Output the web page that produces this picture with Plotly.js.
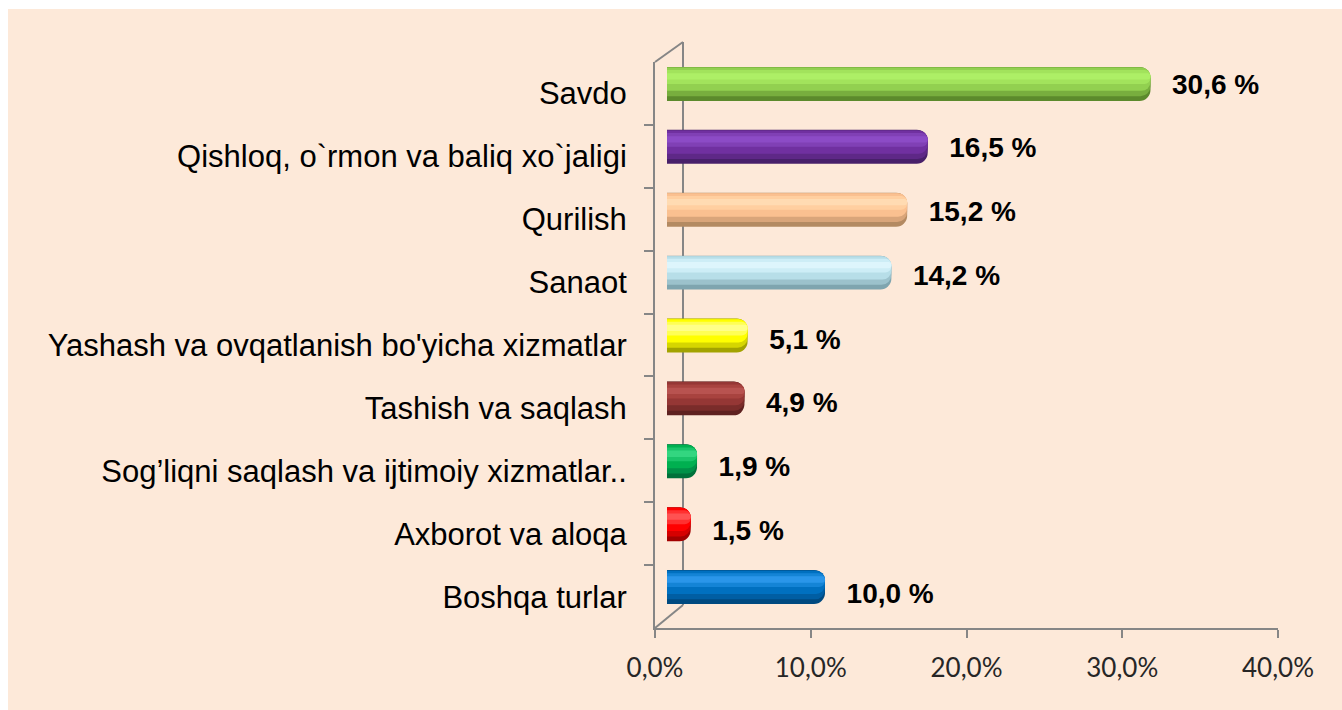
<!DOCTYPE html>
<html>
<head>
<meta charset="utf-8">
<script src="https://cdn.plot.ly/plotly-3.0.1.min.js"></script>
<style>html,body{margin:0;padding:0;background:#fff;}#chart{width:1342px;height:710px;}</style>
</head>
<body>
<div id="chart"></div>
<script>
const categories = [
  "Savdo",
  "Qishloq, o`rmon va baliq xo`jaligi",
  "Qurilish",
  "Sanaot",
  "Yashash va ovqatlanish bo'yicha xizmatlar",
  "Tashish va saqlash",
  "Sog’liqni saqlash va ijtimoiy xizmatlar..",
  "Axborot va aloqa",
  "Boshqa turlar"
];
const values = [30.6, 16.5, 15.2, 14.2, 5.1, 4.9, 1.9, 1.5, 10.0];
const tickValues = [0, 10, 20, 30, 40];
const tickLabels = ["0,0%", "10,0%", "20,0%", "30,0%", "40,0%"];

const baseColors  = ["#92D050","#7030A0","#FAC090","#B7DEE8","#FFFF00","#953735","#00B050","#FF0000","#0070C0"];
const darkColors  = ["#5C8A2C","#48206A","#B38A62","#7FA5AF","#A3A300","#5E2120","#00713A","#A30000","#004A80"];
const midColors   = ["#78AE3E","#5E2887","#D9A57A","#9CC2CC","#D6D600","#7A2C2A","#009148","#D60000","#005EA3"];
const lightColors = ["#A2E35C","#8040B5","#FFCFA0","#CDEDF6","#FFFF55","#A8433F","#1AC46A","#FF3030","#1484D6"];
const hiColors    = ["#ADEF66","#8C4BC6","#FFDBB2","#DDF5FC","#FFFF88","#B85350","#33D680","#FF5252","#2A96EA"];

const W = 1342, H = 710;
const L = 655, R = 40, T = 42, B = 82;
const pw = W - L - R, ph = H - T - B;
const px = v => (v - L) / pw;
const py = v => (H - B - v) / ph;

const gray = "#868686";
const k = 15.8; // pixels per percent for the bar axis

function layer(colors, offset, width, radius) {
  return {
    type: "bar", orientation: "h",
    x: values, y: categories,
    xaxis: "x2", yaxis: "y2",
    offset: offset, width: width,
    marker: {color: colors, line: {width: 0}, cornerradius: radius},
    hoverinfo: "skip", showlegend: false
  };
}

const traces = [
  {
    type: "scatter", mode: "markers",
    x: values, y: categories, xaxis: "x", yaxis: "y",
    marker: {opacity: 0, size: 1}, hoverinfo: "skip", showlegend: false
  },
  layer(darkColors, -0.27, 0.54, 11),
  layer(midColors, -0.265, 0.46, 10),
  layer(baseColors, -0.26, 0.37, 9),
  layer(lightColors, -0.22, 0.22, 7),
  layer(hiColors, -0.17, 0.10, 4),
  {
    type: "scatter", mode: "text",
    x: values, y: categories,
    xaxis: "x3", yaxis: "y3",
    texttemplate: "\u00a0\u00a0%{x:.1f} %",
    textposition: "middle right",
    textfont: {family: "Liberation Sans, Arial", size: 28, color: "#000", weight: "bold"},
    cliponaxis: false, hoverinfo: "skip", showlegend: false
  }
];

const layout = {
  width: W, height: H,
  margin: {l: L, r: R, t: T, b: B},
  paper_bgcolor: "#FDE9D9",
  plot_bgcolor: "rgba(0,0,0,0)",
  separators: ", ",
  barmode: "overlay",
  showlegend: false,
  xaxis: {
    domain: [0, px(1278)], range: [0, 40], anchor: "y",
    tickvals: tickValues, ticktext: tickLabels,
    showline: true, linecolor: gray, linewidth: 2,
    ticks: "outside", ticklen: 8, tickwidth: 2, tickcolor: gray,
    showgrid: false, zeroline: false, ticklabelstandoff: 8,
    tickfont: {family: "Lato, Carlito, Open Sans", size: 26, color: "#262626"},
    fixedrange: true
  },
  yaxis: {
    domain: [0, py(62)], type: "category", categoryarray: categories, categoryorder: "array",
    autorange: "reversed", anchor: "x",
    showline: true, linecolor: gray, linewidth: 2,
    ticks: "outside", tickson: "boundaries", ticklen: 9, tickwidth: 2, tickcolor: gray,
    showgrid: false, zeroline: false, ticklabelstandoff: 20,
    tickfont: {family: "Liberation Sans, Arial", size: 31, color: "#000"},
    fixedrange: true
  },
  xaxis2: {
    domain: [px(667), px(667 + 40 * k)], range: [0, 40], anchor: "y2",
    visible: false, fixedrange: true
  },
  xaxis3: {
    domain: [px(673), 1], range: [0, (L + pw - 673) / k], anchor: "y3",
    visible: false, fixedrange: true
  },
  yaxis2: {
    domain: [py(618.5), py(52.5)], type: "category", categoryarray: categories, categoryorder: "array",
    autorange: "reversed", anchor: "x2", visible: false, fixedrange: true
  },
  yaxis3: {
    domain: [py(624.5), py(58.5)], type: "category", categoryarray: categories, categoryorder: "array",
    autorange: "reversed", anchor: "x3", visible: false, fixedrange: true
  },
  shapes: [
    {type: "rect", xref: "paper", yref: "paper", x0: px(0), x1: px(W), y0: py(9), y1: py(0), fillcolor: "#fff", line: {width: 0}, layer: "below"},
    {type: "rect", xref: "paper", yref: "paper", x0: px(0), x1: px(8), y0: py(H), y1: py(0), fillcolor: "#fff", line: {width: 0}, layer: "below"},
    {type: "line", xref: "paper", yref: "paper", x0: px(683), x1: px(683), y0: py(605), y1: py(42), line: {color: gray, width: 2}, layer: "below"},
    {type: "line", xref: "paper", yref: "paper", x0: px(655), x1: px(683), y0: py(62), y1: py(42), line: {color: gray, width: 2}, layer: "below"},
    {type: "line", xref: "paper", yref: "paper", x0: px(655), x1: px(683), y0: py(628), y1: py(605), line: {color: gray, width: 2}, layer: "below"}
  ]
};

Plotly.newPlot("chart", traces, layout, {displayModeBar: false, staticPlot: true});
</script>
</body>
</html>
